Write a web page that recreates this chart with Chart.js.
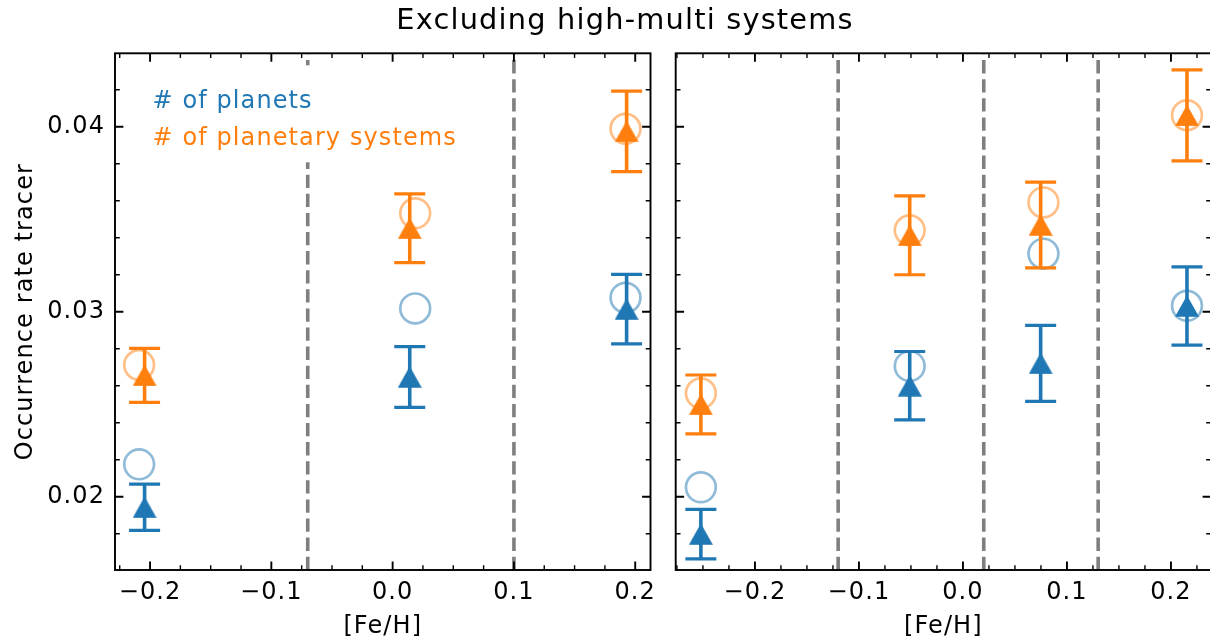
<!DOCTYPE html>
<html>
<head>
<meta charset="utf-8">
<script src="https://cdn.jsdelivr.net/npm/chart.js@4.4.1/dist/chart.umd.min.js"></script>
<style>
  html, body { margin: 0; padding: 0; background: #fff; overflow: hidden; }
  #wrap { position: relative; width: 1210px; height: 643px; overflow: hidden; }
  #suptitle { position: absolute; left: 325px; width: 600px; top: 2px; text-align: center;
              font-family: "DejaVu Sans"; font-size: 28.8px; line-height: 1.2; color: #000;
              letter-spacing: 1.2px; }
  #left { position: absolute; left: 0; top: 0; }
  #right { position: absolute; left: 656px; top: 0; }
</style>
</head>
<body>
<div id="wrap">
  <canvas id="left" width="656" height="643"></canvas>
  <canvas id="right" width="560" height="643"></canvas>
  <div id="suptitle">Excluding high-multi systems</div>
</div>
<script>
// values

// left panel
const leftTriX = [-0.2045, 0.0141, 0.1929];
const leftCircX = [-0.209, 0.0186, 0.192];
const leftPlanets = [0.01943, 0.02647, 0.03014];
const leftPlanetsErr = [0.00125, 0.00164, 0.00188];
const leftPlanetsOpen = [0.02175, 0.03018, 0.03076];
const leftSystems = [0.02656, 0.03451, 0.03975];
const leftSystemsErr = [0.00146, 0.00186, 0.00218];
const leftSystemsOpen = [0.02712, 0.03532, 0.03989];
const leftBins = [-0.07, 0.1];
const leftXRange = [-0.2289, 0.2126];

// right panel
const rightTriX = [-0.252, -0.0512, 0.0747, 0.2154];
const rightCircX = [-0.252, -0.0512, 0.0774, 0.2154];
const rightPlanets = [0.01798, 0.0260, 0.02721, 0.03031];
const rightPlanetsErr = [0.00134, 0.00185, 0.00205, 0.00211];
const rightPlanetsOpen = [0.02051, 0.02706, 0.03314, 0.03032];
const rightSystems = [0.02499, 0.03413, 0.03469, 0.04061];
const rightSystemsErr = [0.00159, 0.00213, 0.00232, 0.00246];
const rightSystemsOpen = [0.02559, 0.0344, 0.03591, 0.04062];
const rightBins = [-0.12, 0.02, 0.13];
const rightXRange = [-0.2762, 0.2385];

// shared axes
const xTicks = [-0.2, -0.1, 0.0, 0.1, 0.2];
const yTicks = [0.02, 0.03, 0.04];
const yRange = [0.01604, 0.04397];
const legendLabels = ['# of planets', '# of planetary systems'];

const BLUE = '#1f77b4';
const ORANGE = '#ff7f0e';
const BLUE_LIGHT = 'rgba(31,119,180,0.5)';
const ORANGE_LIGHT = 'rgba(255,127,14,0.5)';
const FONT = { family: 'DejaVu Sans', size: 24 };
const SPACING = '1.1px';   // matplotlib text runs a little wider than the browser's

Chart.defaults.font.family = 'DejaVu Sans';
Chart.defaults.color = '#000';

// matplotlib-like '^' marker, centred on its bounding box
function triangleMarker(color) {
  const c = document.createElement('canvas');
  c.width = 24; c.height = 22;
  const g = c.getContext('2d');
  g.fillStyle = color;
  g.beginPath();
  g.moveTo(12, 0.3);
  g.lineTo(24, 21.7);
  g.lineTo(0, 21.7);
  g.closePath();
  g.fill();
  return c;
}

const pts = (xs, ys) => xs.map((x, i) => ({ x, y: ys[i] }));

function buildDatasets(triX, circX, planets, pErr, pOpen, systems, sErr, sOpen, bins) {
  const sets = bins.map(b => ({
    data: [{ x: b, y: yRange[0] }, { x: b, y: yRange[1] }],
    showLine: true,
    borderColor: '#7f7f7f',
    borderWidth: 3.6,
    borderDash: [13.3, 5.8],
    pointRadius: 0,
    order: 5
  }));
  [[pOpen, BLUE_LIGHT], [sOpen, ORANGE_LIGHT]].forEach(([vals, col]) => sets.push({
    data: pts(circX, vals),
    pointStyle: 'circle',
    pointRadius: 14.9,
    pointBorderWidth: 2.7,
    pointBorderColor: col,
    pointBackgroundColor: 'rgba(0,0,0,0)',
    order: 3
  }));
  [[planets, pErr, BLUE], [systems, sErr, ORANGE]].forEach(([vals, errs, col]) => sets.push({
    data: pts(triX, vals),
    errors: errs,
    errColor: col,
    pointStyle: triangleMarker(col),
    pointRadius: 12,
    order: 1
  }));
  return sets;
}

// error bars, legend text, inward ticks and the box
const axesDecor = {
  id: 'axesDecor',
  beforeDraw(chart) {
    // canvas resizes wipe the context state, so set it right before drawing
    chart.ctx.letterSpacing = SPACING;
  },
  afterDatasetsDraw(chart, args, opts) {
    const { ctx, chartArea: a, scales: { x, y } } = chart;

    chart.data.datasets.forEach((ds, i) => {
      if (!ds.errors) return;
      const meta = chart.getDatasetMeta(i);
      ctx.save();
      ctx.strokeStyle = ds.errColor;
      meta.data.forEach((el, j) => {
        const v = ds.data[j].y, e = ds.errors[j];
        const yt = y.getPixelForValue(v + e), yb = y.getPixelForValue(v - e);
        ctx.lineWidth = 3.6;
        ctx.beginPath(); ctx.moveTo(el.x, yt); ctx.lineTo(el.x, yb); ctx.stroke();
        ctx.lineWidth = 3.2;
        ctx.beginPath();
        ctx.moveTo(el.x - 15.5, yt); ctx.lineTo(el.x + 15.5, yt);
        ctx.moveTo(el.x - 15.5, yb); ctx.lineTo(el.x + 15.5, yb);
        ctx.stroke();
      });
      ctx.restore();
    });

    if (opts.labels) {
      ctx.save();
      ctx.fillStyle = '#fff';
      ctx.fillRect(a.left + 12, a.top + 12, 343, 97);
      ctx.font = '24px "DejaVu Sans"';
      ctx.letterSpacing = SPACING;
      ctx.textBaseline = 'alphabetic';
      ctx.textAlign = 'left';
      [BLUE, ORANGE].forEach((col, k) => {
        ctx.fillStyle = col;
        ctx.fillText(opts.labels[k], a.left + 37.5, a.top + 55 + k * 36.7);
      });
      ctx.restore();
    }

    ctx.save();
    ctx.strokeStyle = '#000';
    const near = (v, s) => Math.abs(v / s - Math.round(v / s)) < 1e-6;
    const xMinor = [];
    for (let v = Math.ceil(x.min / 0.025) * 0.025; v <= x.max; v += 0.025) if (!near(v, 0.1)) xMinor.push(v);
    const yMinor = [];
    for (let v = Math.ceil(y.min / 0.002) * 0.002; v <= y.max; v += 0.002) if (!near(v, 0.01)) yMinor.push(v);
    const xt = (vals, len, w) => {
      ctx.lineWidth = w;
      ctx.beginPath();
      vals.forEach(v => {
        const p = x.getPixelForValue(v);
        ctx.moveTo(p, a.bottom); ctx.lineTo(p, a.bottom - len);
        ctx.moveTo(p, a.top); ctx.lineTo(p, a.top + len);
      });
      ctx.stroke();
    };
    const yt = (vals, len, w) => {
      ctx.lineWidth = w;
      ctx.beginPath();
      vals.forEach(v => {
        const p = y.getPixelForValue(v);
        ctx.moveTo(a.left, p); ctx.lineTo(a.left + len, p);
        ctx.moveTo(a.right, p); ctx.lineTo(a.right - len, p);
      });
      ctx.stroke();
    };
    xt(x.ticks.map(t => t.value), 8.4, 1.9);
    xt(xMinor, 4.8, 1.4);
    yt(y.ticks.map(t => t.value), 8.4, 1.9);
    yt(yMinor, 4.8, 1.4);
    ctx.lineWidth = 1.9;
    ctx.strokeRect(a.left, a.top, a.right - a.left, a.bottom - a.top);
    ctx.restore();
  }
};

function fmtX(v) {
  const s = (Math.abs(v) < 1e-9 ? 0 : v).toFixed(1);
  return s.replace('-', '\u2212');
}

// keep the plot box where the figure has it, whatever the labels need
function noLabelPadding(s) {
  s.paddingLeft = 0; s.paddingRight = 0; s.paddingTop = 0; s.paddingBottom = 0;
}

function makeChart(id, datasets, xRange, opt) {
  return new Chart(document.getElementById(id), {
    type: 'scatter',
    data: { datasets },
    plugins: [axesDecor],
    options: {
      responsive: false,
      animation: false,
      layout: { autoPadding: false, padding: { top: 53.3, right: opt.padRight, bottom: 0, left: 0 } },
      plugins: {
        legend: { display: false },
        tooltip: { enabled: false },
        axesDecor: { labels: opt.labels }
      },
      scales: {
        x: {
          type: 'linear',
          bounds: 'data',
          min: xRange[0],
          max: xRange[1],
          afterBuildTicks: s => { s.ticks = xTicks.map(value => ({ value })); },
          afterFit: s => { s.height = 73; noLabelPadding(s); },
          grid: { display: false, drawTicks: false },
          border: { display: false },
          ticks: { padding: 8.3, maxRotation: 0, autoSkip: false,
                   font: FONT, color: '#000', callback: fmtX },
          title: { display: true, text: '[Fe/H]', color: '#000', font: FONT, padding: { top: 0, bottom: 1.9 } }
        },
        y: {
          type: 'linear',
          bounds: 'data',
          min: yRange[0],
          max: yRange[1],
          afterBuildTicks: s => { s.ticks = yTicks.map(value => ({ value })); },
          afterFit: s => { s.width = opt.yWidth; noLabelPadding(s); },
          grid: { display: false, drawTicks: false },
          border: { display: false },
          ticks: { display: opt.yLabels, padding: 10, autoSkip: false,
                   font: FONT, color: '#000', callback: v => v.toFixed(2) },
          title: { display: opt.yLabels, text: 'Occurrence rate tracer', color: '#000', font: FONT,
                   padding: { top: 11.3, bottom: 0 } }
        }
      }
    }
  });
}

makeChart('left',
  buildDatasets(leftTriX, leftCircX, leftPlanets, leftPlanetsErr, leftPlanetsOpen,
                leftSystems, leftSystemsErr, leftSystemsOpen, leftBins),
  leftXRange, { padRight: 5.5, yWidth: 115, yLabels: true, labels: legendLabels });

makeChart('right',
  buildDatasets(rightTriX, rightCircX, rightPlanets, rightPlanetsErr, rightPlanetsOpen,
                rightSystems, rightSystemsErr, rightSystemsOpen, rightBins),
  rightXRange, { padRight: 5, yWidth: 19.7, yLabels: false, labels: null });
</script>
</body>
</html>
